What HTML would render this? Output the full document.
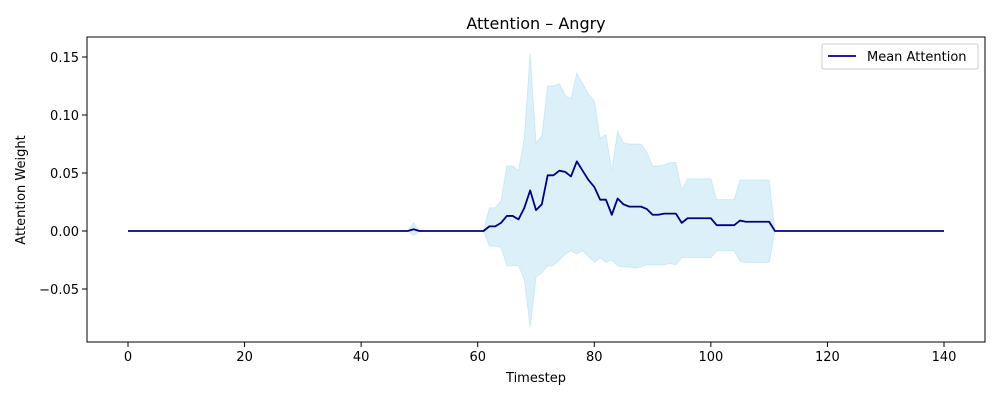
<!DOCTYPE html>
<html><head><meta charset="utf-8"><style>
body{margin:0;background:#fff;font-family:"Liberation Sans","DejaVu Sans",sans-serif}
svg text{font-family:"DejaVu Sans","Liberation Sans",sans-serif;fill:#000}
</style></head><body>
<svg id="c" width="1000" height="400"></svg>
<script>
const timesteps=[];for(let t=0;t<=140;t++)timesteps.push(t);
const meanNZ={49:0.0015,62:0.004,63:0.004,64:0.007,65:0.013,66:0.013,67:0.010,68:0.020,69:0.035,70:0.018,71:0.023,72:0.048,73:0.048,74:0.052,75:0.051,76:0.047,77:0.060,78:0.052,79:0.044,80:0.038,81:0.027,82:0.027,83:0.014,84:0.028,85:0.023,86:0.021,87:0.021,88:0.021,89:0.019,90:0.014,91:0.014,92:0.015,93:0.015,94:0.015,95:0.007,96:0.011,97:0.011,98:0.011,99:0.011,100:0.011,101:0.005,102:0.005,103:0.005,104:0.005,105:0.009,106:0.008,107:0.008,108:0.008,109:0.008,110:0.008};
const upperNZ={49:0.007,62:0.020,63:0.020,64:0.026,65:0.056,66:0.056,67:0.052,68:0.080,69:0.153,70:0.076,71:0.082,72:0.125,73:0.125,74:0.127,75:0.117,76:0.114,77:0.136,78:0.127,79:0.118,80:0.112,81:0.080,82:0.083,83:0.052,84:0.086,85:0.076,86:0.075,87:0.075,88:0.075,89:0.068,90:0.056,91:0.056,92:0.057,93:0.059,94:0.059,95:0.035,96:0.045,97:0.045,98:0.045,99:0.045,100:0.045,101:0.027,102:0.027,103:0.027,104:0.027,105:0.044,106:0.044,107:0.044,108:0.044,109:0.044,110:0.044};
const lowerNZ={49:-0.004,62:-0.013,63:-0.013,64:-0.014,65:-0.030,66:-0.030,67:-0.030,68:-0.042,69:-0.083,70:-0.040,71:-0.036,72:-0.030,73:-0.030,74:-0.025,75:-0.020,76:-0.017,77:-0.020,78:-0.017,79:-0.022,80:-0.027,81:-0.023,82:-0.027,83:-0.025,84:-0.030,85:-0.031,86:-0.031,87:-0.032,88:-0.031,89:-0.029,90:-0.029,91:-0.029,92:-0.029,93:-0.028,94:-0.029,95:-0.023,96:-0.023,97:-0.023,98:-0.023,99:-0.023,100:-0.023,101:-0.017,102:-0.017,103:-0.017,104:-0.017,105:-0.026,106:-0.027,107:-0.027,108:-0.027,109:-0.027,110:-0.027};
const meanVals=timesteps.map(t=>meanNZ[t]||0);
const upperVals=timesteps.map(t=>upperNZ[t]||0);
const lowerVals=timesteps.map(t=>lowerNZ[t]||0);
const xTicks=[0,20,40,60,80,100,120,140];
const yTicks=[-0.05,0,0.05,0.10,0.15];
const yTickLabels=["\u22120.05","0.00","0.05","0.10","0.15"];

const NS="http://www.w3.org/2000/svg",svg=document.getElementById('c');
const L=87,R=985,T=37,B=342;
const xs=t=>128+(t-0)*(816/140);
const ys=v=>231-v*1160;
function el(n,a,p){const e=document.createElementNS(NS,n);for(const k in a)e.setAttribute(k,a[k]);(p||svg).appendChild(e);return e;}
let d='M'+timesteps.map((t,i)=>xs(t)+','+ys(upperVals[i])).join('L');
for(let i=timesteps.length-1;i>=0;i--)d+='L'+xs(timesteps[i])+','+ys(lowerVals[i]);
const band=el('path',{d:d+'Z',fill:'#87ceeb','fill-opacity':0.3,stroke:'#87ceeb','stroke-opacity':0.3,'stroke-width':1});


const line=el('path',{d:'M'+timesteps.map((t,i)=>xs(t)+','+ys(meanVals[i])).join('L'),fill:'none',stroke:'#000080','stroke-width':1.8,'stroke-linejoin':'round'});


const fr=el('rect',{x:L,y:T,width:R-L,height:B-T,fill:'none',stroke:'#000','stroke-width':1});


xTicks.forEach(t=>{el('line',{x1:xs(t),x2:xs(t),y1:B,y2:B+5,stroke:'#000','stroke-width':1});
 const tx=el('text',{x:xs(t),y:B+19,'font-size':13,'text-anchor':'middle'});tx.textContent=t;
 
 });
yTicks.forEach((v,i)=>{el('line',{x1:L-5,x2:L,y1:ys(v),y2:ys(v),stroke:'#000','stroke-width':1});
 const tx=el('text',{x:L-8,y:ys(v)+5,'font-size':13,'text-anchor':'end'});tx.textContent=yTickLabels[i];
 
 });
</script>
<svg width="1000" height="400" style="position:absolute;left:0;top:0">
<text x="536" y="29" font-size="16" text-anchor="middle">Attention – Angry</text>
<text x="536" y="382" font-size="13" text-anchor="middle">Timestep</text>
<text x="25" y="190" font-size="13" text-anchor="middle" transform="rotate(-90 25 190)">Attention Weight</text>
<g>
<rect x="822" y="44" width="156" height="25" rx="2" fill="#fff" fill-opacity="0.8" stroke="#ccc" stroke-width="1"/>
<line x1="828" x2="856" y1="56" y2="56" stroke="#000080" stroke-width="1.8"/>
<text x="867" y="61" font-size="13">Mean Attention</text>
</g>
</svg>
</body></html>
